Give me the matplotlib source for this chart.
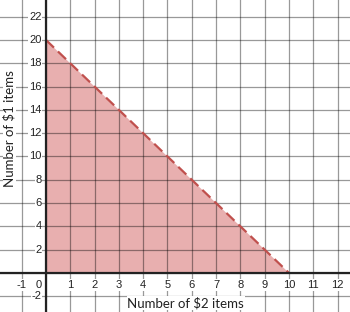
import numpy as np
import matplotlib
matplotlib.use('Agg')
import matplotlib.pyplot as plt

# boundary line 2*x + y = 20, region below it shaded
x_line = [0, 10]
y_line = [20, 0]

x_ticks = [-1, 0, 1, 2, 3, 4, 5, 6, 7, 8, 9, 10, 11, 12]
y_ticks = [-2, 2, 4, 6, 8, 10, 12, 14, 16, 18, 20, 22]
y_grid = [-2, 0, 2, 4, 6, 8, 10, 12, 14, 16, 18, 20, 22]

xlabel = 'Number of $2 items'
ylabel = 'Number of $1 items'

fig = plt.figure(figsize=(3.5, 3.12), dpi=100)
ax = fig.add_axes([0, 0, 1, 1])
ax.set_xlim(-1.89, 12.51)
ax.set_ylim(-3.35, 23.43)

# shaded region
ax.fill_between(x_line, y_line, 0, color='#e8afaf', lw=0, zorder=1)

# grid (semi transparent so it darkens over the fill)
for xv in x_ticks:
    ax.axvline(xv, color='black', alpha=0.4, lw=0.9, zorder=2)
for yv in y_grid:
    ax.axhline(yv, color='black', alpha=0.4, lw=0.9, zorder=2)

# dashed boundary
ax.plot(x_line, y_line, color='#c0504d', lw=1.6, ls=(0, (5, 2.5)), zorder=4)

# axes lines
ax.axhline(0, color='#222222', lw=1.6, zorder=5)
ax.axvline(0, color='#222222', lw=1.6, zorder=5)

for s in ax.spines.values():
    s.set_visible(False)
ax.set_xticks([])
ax.set_yticks([])

bb = dict(facecolor='white', edgecolor='none', pad=0.6)
tfont = dict(family='Liberation Sans', fontsize=8, color='#222222')
for xv in x_ticks:
    if xv == 0:
        ax.text(-0.3, -1.03, '0', ha='center', va='center', bbox=bb, zorder=6, **tfont)
    else:
        ax.text(xv, -1.03, str(xv), ha='center', va='center', bbox=bb, zorder=6, **tfont)
for yv in y_ticks:
    ax.text(-0.18, yv, str(yv), ha='right', va='center', bbox=bb, zorder=6, **tfont)

lfont = dict(family='Lato', fontsize=9.5, color='#222222')
ax.text(5.75, -2.6, xlabel, ha='center', va='center', bbox=dict(facecolor='white', edgecolor='none', pad=0.5), zorder=6, **lfont)
ax.text(-1.5, 12.4, ylabel, ha='center', va='center', rotation=90, bbox=dict(facecolor='white', edgecolor='none', pad=0.5), zorder=6, **lfont)

fig.savefig('out.png', dpi=100)
